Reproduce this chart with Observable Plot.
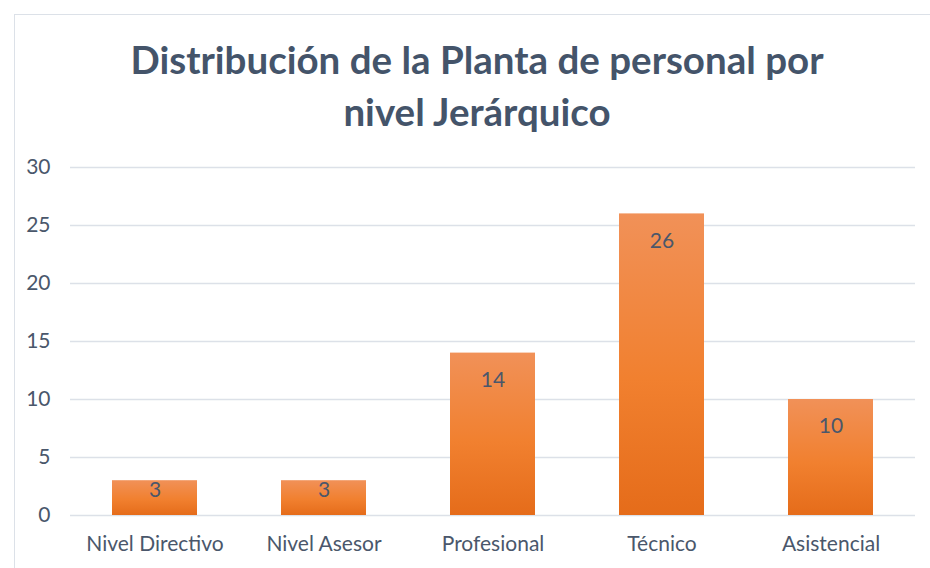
<!DOCTYPE html>
<html>
<head>
<meta charset="utf-8">
<script src="https://cdn.jsdelivr.net/npm/d3@7"></script>
<script src="https://cdn.jsdelivr.net/npm/@observablehq/plot@0.6"></script>
<style>
  html, body { margin: 0; padding: 0; background: #fff; }
  #wrap { position: relative; width: 930px; height: 568px; overflow: hidden; font-family: Lato, "Noto Sans", sans-serif; }
  #frame { position: absolute; left: 14px; top: 14px; width: 940px; height: 600px; border-left: 1.5px solid #DCE1E8; border-top: 1.5px solid #DCE1E8; box-sizing: border-box; }
  #title { position: absolute; left: 14px; width: 926px; top: 33px; text-align: center; font-family: Lato, sans-serif; font-weight: bold; font-size: 38.5px; line-height: 52px; color: #44546A; }
  #chart { position: absolute; left: 0; top: 150px; }
</style>
</head>
<body>
<div id="wrap">
  <div id="frame"></div>
  <div id="title">Distribución de la Planta de personal por<br>nivel Jerárquico</div>
  <div id="chart"></div>
</div>
<script>
const categories = ["Nivel Directivo", "Nivel Asesor", "Profesional", "Técnico", "Asistencial"];
const values = [3, 3, 14, 26, 10];
const yTicks = [0, 5, 10, 15, 20, 25, 30];

const data = categories.map((c, i) => ({ cat: c, v: values[i] }));
const textColor = "#4A576B";

const plot = Plot.plot({
  width: 930,
  height: 418,
  marginTop: 17,
  marginBottom: 53,
  marginLeft: 70,
  marginRight: 15,
  style: { fontFamily: "Lato, sans-serif", fontSize: "21px", color: textColor, background: "transparent" },
  x: { domain: categories, paddingInner: 0.5, paddingOuter: 0.25, label: null, tickSize: 0, tickPadding: 21 },
  y: { domain: [0, 30], ticks: yTicks, label: null, tickSize: 0, tickPadding: 20 },
  marks: [
    Plot.gridY(yTicks, { stroke: "#DCE1E8", strokeOpacity: 1, strokeWidth: 1.5 }),
    Plot.barY(data, { x: "cat", y: "v", fill: "url(#barGrad)" }),
    Plot.text(data.filter(d => d.v >= 5), { x: "cat", y: "v", text: d => String(d.v), dy: 27, fill: textColor, fontSize: 21 }),
    Plot.text(data.filter(d => d.v < 5), { x: "cat", y: "v", text: d => String(d.v), dy: 10, fill: textColor, fontSize: 21 })
  ]
});

const svg = d3.select(plot);
const defs = svg.insert("defs", ":first-child");
const g = defs.append("linearGradient").attr("id", "barGrad").attr("x1", 0).attr("y1", 0).attr("x2", 0).attr("y2", 1);
g.append("stop").attr("offset", "0%").attr("stop-color", "#F19158");
g.append("stop").attr("offset", "55%").attr("stop-color", "#F1802F");
g.append("stop").attr("offset", "100%").attr("stop-color", "#E56C1A");

document.getElementById("chart").appendChild(plot);
</script>
</body>
</html>
